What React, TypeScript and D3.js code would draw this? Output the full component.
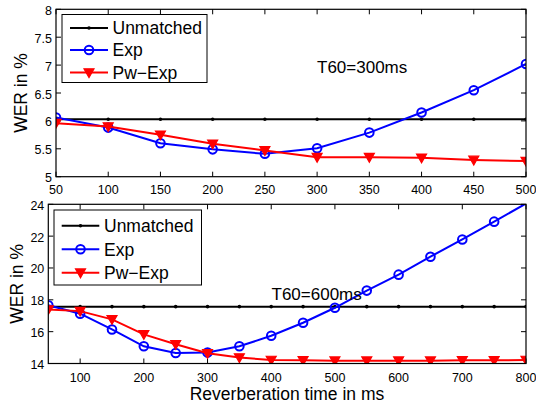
import * as d3 from "d3";
import { useRef, useEffect } from "react";

// reverberation times (ms)
const timesTop = [50, 100, 150, 200, 250, 300, 350, 400, 450, 500];
const timesBottom = [50, 100, 150, 200, 250, 300, 350, 400, 450, 500, 550, 600, 650, 700, 750, 800];

// T60 = 300ms
const unmatchedTop = [6.03, 6.03, 6.03, 6.03, 6.03, 6.03, 6.03, 6.03, 6.03, 6.03];
const expTop = [6.06, 5.88, 5.6, 5.49, 5.41, 5.51, 5.79, 6.15, 6.55, 7.02];
const pwExpTop = [5.96, 5.9, 5.75, 5.59, 5.47, 5.35, 5.35, 5.34, 5.3, 5.28];

// T60 = 600ms
const unmatchedBottom = [17.57, 17.57, 17.57, 17.57, 17.57, 17.57, 17.57, 17.57, 17.57, 17.57, 17.57, 17.57, 17.57, 17.57, 17.57, 17.57];
const expBottom = [17.66, 17.13, 16.14, 15.08, 14.66, 14.69, 15.08, 15.74, 16.56, 17.5, 18.58, 19.58, 20.71, 21.79, 22.91, 24.05];
const pwExpBottom = [17.39, 17.29, 16.77, 15.83, 15.21, 14.64, 14.37, 14.22, 14.2, 14.18, 14.18, 14.18, 14.18, 14.2, 14.2, 14.22];

const seriesNames = ["Unmatched", "Exp", "Pw\u2212Exp"];
const xTicksTop = [50, 100, 150, 200, 250, 300, 350, 400, 450, 500];
const yTicksTop = [5, 5.5, 6, 6.5, 7, 7.5, 8];
const xTicksBottom = [100, 200, 300, 400, 500, 600, 700, 800];
const yTicksBottom = [14, 16, 18, 20, 22, 24];

const width = 536;
const height = 407;
const font = "'Liberation Sans', Arial, Helvetica, sans-serif";
const colors = ["#000000", "#0000ff", "#ff0000"];

const drawPanel = (svg, opt) => {
  const { id, xDomain, yDomain, box, xTicks, yTicks, times, series, legend, note } = opt;
  const x = d3.scaleLinear().domain(xDomain).range([box.left, box.right]);
  const y = d3.scaleLinear().domain(yDomain).range([box.bottom, box.top]);

  svg.append("clipPath").attr("id", id)
    .append("rect")
    .attr("x", box.left).attr("y", box.top)
    .attr("width", box.right - box.left).attr("height", box.bottom - box.top);

  const g = svg.append("g");
  const tick = 5;

  // ticks inside on all four sides, like matlab
  xTicks.forEach((t) => {
    g.append("line").attr("x1", x(t)).attr("x2", x(t)).attr("y1", box.bottom).attr("y2", box.bottom - tick).attr("stroke", "#000");
    g.append("line").attr("x1", x(t)).attr("x2", x(t)).attr("y1", box.top).attr("y2", box.top + tick).attr("stroke", "#000");
    g.append("text").attr("x", x(t)).attr("y", box.bottom + opt.xLabelOffset)
      .attr("text-anchor", "middle").attr("font-size", 12.5).attr("font-family", font).text(t);
  });
  yTicks.forEach((t) => {
    g.append("line").attr("x1", box.left).attr("x2", box.left + tick).attr("y1", y(t)).attr("y2", y(t)).attr("stroke", "#000");
    g.append("line").attr("x1", box.right).attr("x2", box.right - tick).attr("y1", y(t)).attr("y2", y(t)).attr("stroke", "#000");
    g.append("text").attr("x", box.left - 4).attr("y", y(t) + 5.5)
      .attr("text-anchor", "end").attr("font-size", 12.5).attr("font-family", font).text(t);
  });

  const lineGen = d3.line().x((d) => x(d[0])).y((d) => y(d[1]));
  const plot = g.append("g").attr("clip-path", `url(#${id})`);

  series.forEach((vals, i) => {
    const pts = times.map((t, k) => [t, vals[k]]);
    plot.append("path").attr("d", lineGen(pts)).attr("fill", "none")
      .attr("stroke", colors[i]).attr("stroke-width", 2);
    // markers with centre outside the axes are not drawn
    const inside = pts.filter((p) => p[1] >= yDomain[0] && p[1] <= yDomain[1]);
    inside.forEach((p) => drawMarker(plot, i, x(p[0]), y(p[1])));
  });

  // axes box
  g.append("rect").attr("x", box.left).attr("y", box.top)
    .attr("width", box.right - box.left).attr("height", box.bottom - box.top)
    .attr("fill", "none").attr("stroke", "#000").attr("stroke-width", 1.2);

  // legend
  const lg = g.append("g");
  lg.append("rect").attr("x", legend.x).attr("y", legend.y).attr("width", legend.w).attr("height", legend.h)
    .attr("fill", "#fff").attr("stroke", "#000").attr("stroke-width", 1);
  seriesNames.forEach((name, i) => {
    const ly = legend.rows[i];
    lg.append("line").attr("x1", legend.lx0).attr("x2", legend.lx1).attr("y1", ly).attr("y2", ly)
      .attr("stroke", colors[i]).attr("stroke-width", 2);
    drawMarker(lg, i, (legend.lx0 + legend.lx1) / 2, ly);
    lg.append("text").attr("x", legend.tx).attr("y", ly + 6.3)
      .attr("font-size", 17.5).attr("font-family", font).text(name);
  });

  g.append("text").attr("x", note.x).attr("y", note.y).attr("font-size", 17).attr("font-family", font).text(note.text);

  g.append("text")
    .attr("transform", `translate(${opt.ylabelX},${(box.top + box.bottom) / 2}) rotate(-90)`)
    .attr("text-anchor", "middle").attr("font-size", 17.5).attr("font-family", font).text("WER in %");
};

const drawMarker = (g, i, cx, cy) => {
  if (i === 0) {
    g.append("circle").attr("cx", cx).attr("cy", cy).attr("r", 1.8).attr("fill", "#000");
  } else if (i === 1) {
    g.append("circle").attr("cx", cx).attr("cy", cy).attr("r", 4.3)
      .attr("fill", "none").attr("stroke", colors[1]).attr("stroke-width", 2);
  } else {
    const s = 5;
    g.append("path").attr("d", `M${cx - s},${cy - s * 0.75}L${cx + s},${cy - s * 0.75}L${cx},${cy + s}Z`)
      .attr("fill", colors[2]).attr("stroke", colors[2]).attr("stroke-width", 1.2);
  }
};

const App = () => {
  const ref = useRef(null);

  useEffect(() => {
    if (!ref.current) return;
    const svg = d3.select(ref.current);
    svg.selectAll("*").remove();
    svg.append("rect").attr("width", width).attr("height", height).attr("fill", "#fff");

    drawPanel(svg, {
      id: "clipTop",
      xDomain: [50, 500],
      yDomain: [5, 8],
      box: { left: 56, right: 526, top: 9.3, bottom: 176.7 },
      xTicks: xTicksTop,
      yTicks: yTicksTop,
      xLabelOffset: 16.8,
      times: timesTop,
      series: [unmatchedTop, expTop, pwExpTop],
      legend: { x: 62, y: 14.5, w: 145, h: 68, lx0: 70, lx1: 108, tx: 112.5, rows: [28, 50, 72.5] },
      note: { text: "T60=300ms", x: 317, y: 73 },
      ylabelX: 26.5,
    });

    drawPanel(svg, {
      id: "clipBottom",
      xDomain: [50, 800],
      yDomain: [14, 24],
      box: { left: 48.3, right: 526, top: 204.3, bottom: 363.5 },
      xTicks: xTicksBottom,
      yTicks: yTicksBottom,
      xLabelOffset: 18.3,
      times: timesBottom,
      series: [unmatchedBottom, expBottom, pwExpBottom],
      legend: { x: 54, y: 210, w: 147.5, h: 75, lx0: 61.7, lx1: 99.3, tx: 104, rows: [225.7, 249.3, 272.7] },
      note: { text: "T60=600ms", x: 271.5, y: 299.5 },
      ylabelX: 23,
    });

    svg.append("text").attr("x", 287).attr("y", 400).attr("text-anchor", "middle")
      .attr("font-size", 17.5).attr("font-family", font).text("Reverberation time in ms");
  }, []);

  return (
    <svg ref={ref} width={width} height={height}
      style={{ position: "absolute", left: 0, top: 0, display: "block" }} />
  );
};

export default App;
